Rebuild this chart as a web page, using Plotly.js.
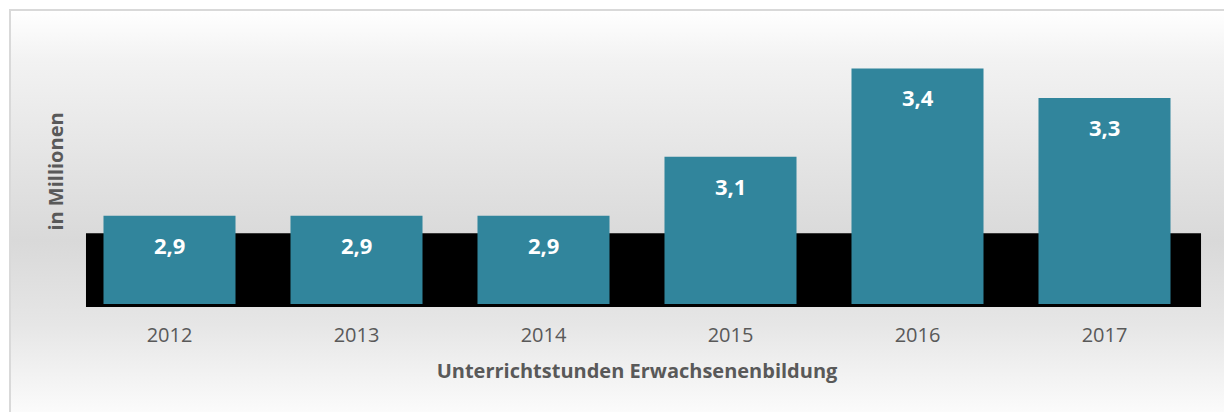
<!DOCTYPE html>
<html>
<head>
<meta charset="utf-8">
<script src="https://cdn.plot.ly/plotly-3.0.1.min.js"></script>
<style>
  html, body { margin: 0; padding: 0; background: #ffffff; }
  #frame {
    position: absolute; left: 0; top: 0; width: 1224px; height: 412px; overflow: hidden;
  }
  #bg {
    position: absolute; left: 9px; top: 9px; width: 1230px; height: 420px;
    border-top: 2px solid #d9d9d9; border-left: 2px solid #d9d9d9;
    background: linear-gradient(to bottom, #ffffff 0%, #f2f2f2 12%, #d9d9d9 55%, #e6e6e6 75%, #ffffff 100%);
    box-sizing: border-box;
  }
  #chart { position: absolute; left: 0; top: 0; width: 1224px; height: 412px; }
</style>
</head>
<body>
<div id="frame">
  <div id="bg"></div>
  <div id="chart"></div>
</div>
<script>
const years = ['2012', '2013', '2014', '2015', '2016', '2017'];
const hours = [2.9, 2.9, 2.9, 3.1, 3.4, 3.3];
const labels = ['2,9', '2,9', '2,9', '3,1', '3,4', '3,3'];
const xTitle = 'Unterrichtstunden Erwachsenenbildung';
const yTitle = 'in Millionen';

const FONT = '"Open Sans", "Noto Sans", sans-serif';
const GREY = '#595959';

const trace = {
  type: 'bar',
  x: years,
  y: hours,
  marker: { color: '#31859c', line: { width: 0 } },
  hoverinfo: 'skip'
};

const annotations = years.map((yr, i) => ({
  x: i, y: hours[i], xref: 'x', yref: 'y',
  text: '<b>' + labels[i] + '</b>',
  showarrow: false, yanchor: 'middle', yshift: -29,
  font: { family: FONT, size: 22, color: '#ffffff' }
}));

const layout = {
  width: 1224, height: 412,
  margin: { l: 76, r: 26, t: 39, b: 108 },
  paper_bgcolor: 'rgba(0,0,0,0)',
  plot_bgcolor: 'rgba(0,0,0,0)',
  showlegend: false,
  bargap: 0.294,
  xaxis: {
    type: 'category',
    range: [-0.5, years.length - 0.5],
    autorange: false,
    showgrid: false, zeroline: false, showline: false,
    ticks: '', ticklabelstandoff: 17,
    tickfont: { family: FONT, size: 20, color: GREY },
    title: { text: '<b>' + xTitle + '</b>', standoff: 16,
             font: { family: FONT, size: 20, color: GREY } }
  },
  yaxis: {
    range: [2.6, 3.5],
    autorange: false,
    showgrid: false, zeroline: false, showline: false,
    showticklabels: false, ticks: '',
    title: { text: '<b>' + yTitle + '</b>', standoff: 6,
             font: { family: FONT, size: 20, color: GREY } }
  },
  shapes: [{
    type: 'rect', layer: 'below',
    xref: 'paper', yref: 'paper',
    x0: 0.0089, x1: 1.0027, y0: -0.011, y1: 0.267,
    fillcolor: '#000000', line: { width: 0 }
  }],
  annotations: annotations
};

Plotly.newPlot('chart', [trace], layout, { displayModeBar: false, staticPlot: true });
</script>
</body>
</html>
